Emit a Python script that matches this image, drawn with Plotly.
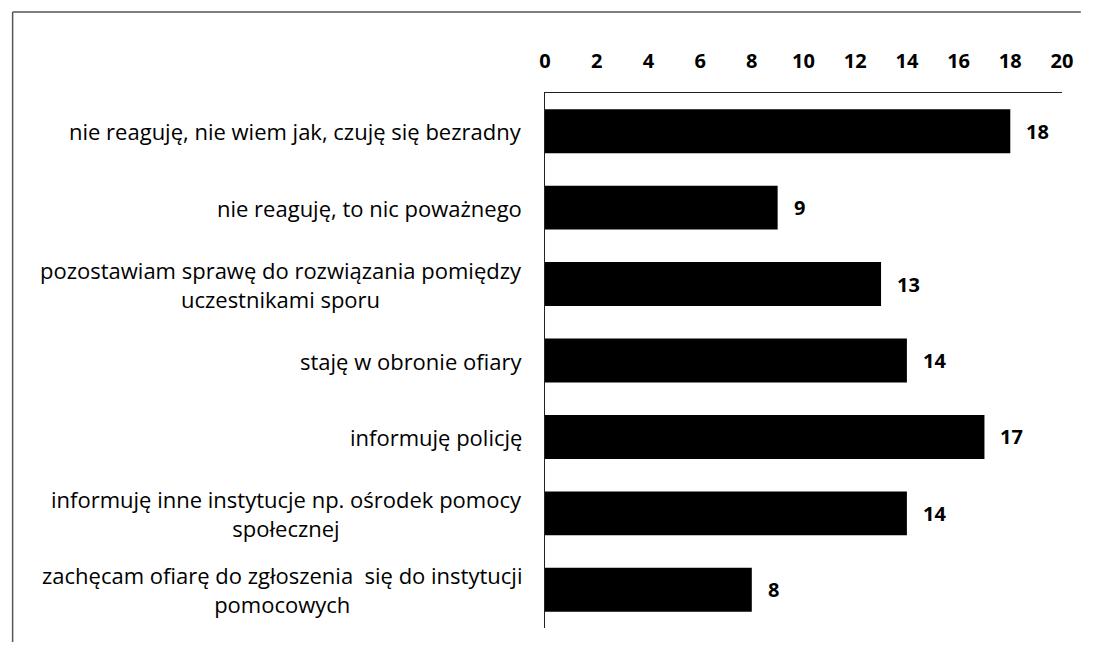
import plotly.graph_objects as go

categories = [
    "nie reaguję, nie wiem jak, czuję się bezradny",
    "nie reaguję, to nic poważnego",
    "pozostawiam sprawę do rozwiązania pomiędzy<br>uczestnikami sporu",
    "staję w obronie ofiary",
    "informuję policję",
    "informuję inne instytucje np. ośrodek pomocy<br>społecznej",
    "zachęcam ofiarę do zgłoszenia  się do instytucji<br>pomocowych",
]
values = [18, 9, 13, 14, 17, 14, 8]
tick_vals = [0, 2, 4, 6, 8, 10, 12, 14, 16, 18, 20]

# page body has an 8px margin; figure is sized so it fits the 1093x650 window
W, H = 1077, 634
ML, MR, MT, MB = 537, 19, 85, 14
FONT = "Open Sans"

fig = go.Figure(go.Bar(
    x=values, y=categories, orientation="h",
    marker=dict(color="black", line=dict(width=0)),
    hoverinfo="skip",
))

annotations = []
for c, v in zip(categories, values):
    annotations.append(dict(
        x=v, y=c, xref="x", yref="y", text=str(v), showarrow=False,
        xanchor="left", xshift=14,
        font=dict(family=FONT, size=20, color="black", weight="bold"),
    ))
    annotations.append(dict(
        x=0, y=c, xref="paper", yref="y", text=c, showarrow=False,
        xanchor="right", xshift=-21, align="center",
        font=dict(family=FONT, size=22, color="black"),
    ))

pw = W - ML - MR
ph = H - MT - MB
def px_x(p):
    return (p - ML) / pw
def px_y(p):
    return 1 - (p - MT) / ph

shapes = [
    dict(type="line", xref="paper", yref="paper",
         x0=px_x(0.5), x1=px_x(W), y0=px_y(4), y1=px_y(4),
         line=dict(color="#555", width=1.5)),
    dict(type="line", xref="paper", yref="paper",
         x0=px_x(0.5), x1=px_x(0.5), y0=px_y(4), y1=px_y(H),
         line=dict(color="#555", width=1.5)),
]

fig.update_layout(
    width=W, height=H,
    margin=dict(l=ML, r=MR, t=MT, b=MB),
    paper_bgcolor="white", plot_bgcolor="white",
    bargap=0.425,
    showlegend=False,
    annotations=annotations,
    shapes=shapes,
    xaxis=dict(
        side="top", range=[0, 20], tickvals=tick_vals,
        showgrid=False, zeroline=False,
        showline=True, linecolor="#222", linewidth=1.2,
        ticks="", ticklabelstandoff=16,
        tickfont=dict(family=FONT, size=20, color="black", weight="bold"),
    ),
    yaxis=dict(
        autorange="reversed", showticklabels=False,
        showgrid=False, zeroline=False,
        showline=True, linecolor="#222", linewidth=1.2, ticks="",
    ),
)

fig.write_html("out.html")
